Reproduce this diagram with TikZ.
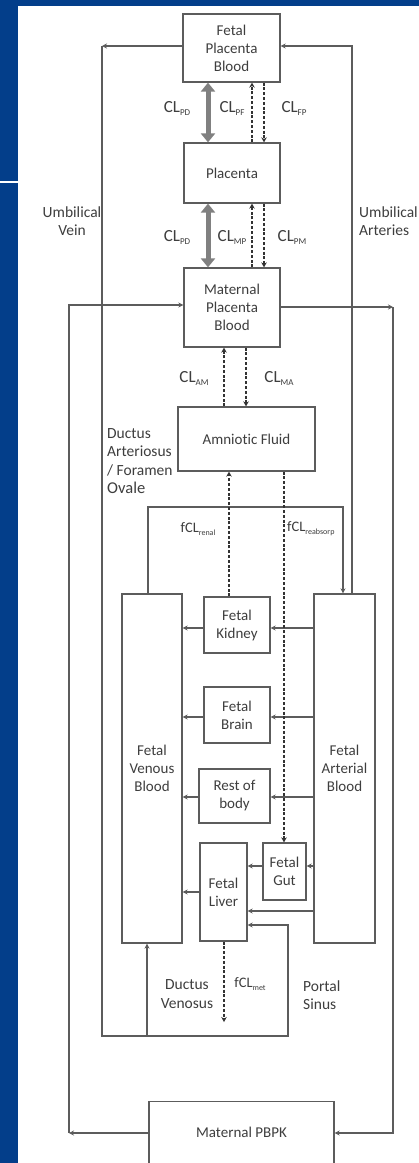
\documentclass[tikz,border=0pt]{standalone}
\usepackage{fontspec}
\setmainfont{Carlito}[Ligatures={NoCommon,NoContextual}]
\usetikzlibrary{arrows.meta}
\definecolor{slideblue}{RGB}{3,62,138}
\definecolor{ink}{RGB}{62,62,62}
\definecolor{wirecol}{RGB}{92,92,92}
\definecolor{thickcol}{RGB}{128,128,128}
\newcommand{\lsub}[2][9]{\raisebox{-3pt}{\fontsize{#1}{#1}\selectfont #2}}

\begin{document}
\begin{tikzpicture}[x=1pt,y=-1pt,
  box/.style={draw=wirecol, line width=1.3pt, text=ink, align=center, inner sep=0pt,
              font=\fontsize{15}{18}\selectfont},
  pipe/.style={draw=wirecol, line width=1.2pt},
  flow/.style={pipe, -{Stealth[length=5pt,width=5pt]}},
  dflow/.style={draw=black!80, line width=1.6pt, dash pattern=on 3pt off 1.8pt,
                -{Stealth[length=5pt,width=5.5pt]}},
  fatflow/.style={draw=thickcol, line width=5pt,
                  {Triangle[length=9pt,width=14pt]}-{Triangle[length=9pt,width=14pt]}},
  lab/.style={text=ink, inner sep=0pt, font=\fontsize{15.5}{18.5}\selectfont},
  cl/.style={text=ink, inner sep=0pt, font=\fontsize{17}{18}\selectfont},
  fcl/.style={text=ink, inner sep=0pt, font=\fontsize{14.5}{18}\selectfont},
]
% slide background and white panel
\fill[slideblue] (0,0) rectangle (419,1163);
\fill[white] (17.5,6) rectangle (419,1163);
\fill[white] (0,180.5) rectangle (17.5,183);
\useasboundingbox (0,0) rectangle (419,1163);

% compartments
\node[box, minimum width=97pt, minimum height=68pt] (fpb) at (231.5,48) {Fetal\\Placenta\\Blood};
\node[box, minimum width=96pt, minimum height=60pt] (pla) at (232,173) {Placenta};
\node[box, minimum width=96pt, minimum height=79pt] (mpb) at (232,307.5) {Maternal\\Placenta\\Blood};
\node[box, minimum width=137pt, minimum height=64pt] (amn) at (246.5,439) {Amniot\kern0pt ic Fluid};
\node[box, minimum width=60pt, minimum height=349pt] (fvb) at (152,768.5) {Fetal\\Venous\\Blood};
\node[box, minimum width=61pt, minimum height=349pt] (fab) at (344.5,768.5) {Fetal\\Arterial\\Blood};
\node[box, minimum width=66pt, minimum height=56pt] (kid) at (237,625) {Fetal\\Kidney};
\node[box, minimum width=66pt, minimum height=56pt] (brn) at (237,715) {Fetal\\Brain};
\node[box, minimum width=71pt, minimum height=54pt] (rob) at (234.5,796) {Rest of\\body};
\node[box, minimum width=43pt, minimum height=57pt] (gut) at (284.5,871.5) {Fetal\\Gut};
\node[box, minimum width=47pt, minimum height=98pt] (liv) at (223.5,892) {Fetal\\Liver};
\node[box, minimum width=185pt, minimum height=64pt, anchor=north] (mat) at (241.5,1101) {\raisebox{2pt}{Maternal PBPK}};

% routing points
\coordinate (uvTop) at (102,46);
\coordinate (uvBot) at (102,1036);
\coordinate (psBot) at (288,1036);
\coordinate (psTop) at (288,925);
\coordinate (dvBot) at (147,1036);
\coordinate (uaTop) at (352,46);
\coordinate (daL) at (148,507);
\coordinate (daR) at (343,507);
\coordinate (mlBot) at (69,1133);
\coordinate (mlTop) at (69,305);
\coordinate (mrTop) at (393,307);
\coordinate (mrBot) at (393,1133);
\coordinate (metEnd) at (224,1022);
\coordinate (c1) at (208,0);
\coordinate (c2) at (252,0);
\coordinate (c3) at (264,0);
\coordinate (c4) at (224,0);
\coordinate (c5) at (246,0);
\coordinate (c6) at (229,0);
\coordinate (c7) at (284,0);
\coordinate (r1) at (0,628);
\coordinate (r2) at (0,717);
\coordinate (r3) at (0,797);
\coordinate (r4) at (0,866);
\coordinate (r5) at (0,892);
\coordinate (r6) at (0,911);

% umbilical vein, ductus venosus and portal sinus
\draw[flow] (fpb.west |- uvTop) -- (uvTop);
\draw[flow] (uvTop) -- (uvBot) -- (psBot) -- (psTop) -- (liv.east |- psTop);
\draw[flow] (dvBot) -- (dvBot |- fvb.south);
% umbilical arteries
\draw[flow] (uaTop |- fab.north) -- (uaTop) -- (fpb.east |- uaTop);
% ductus arteriosus / foramen ovale
\draw[flow] (daL |- fvb.north) -- (daL) -- (daR) -- (daR |- fab.north);
% maternal circulation
\draw[flow] (mat.west |- mlBot) -- (mlBot);
\draw[flow] (mlBot) -- (mlTop) -- (mpb.west |- mlTop);
\draw[flow] (mpb.east |- mrTop) -- (mrTop);
\draw[flow] (mrTop) -- (mrBot) -- (mat.east |- mrBot);

% fetal organ flows
\draw[flow] (fab.west |- r1) -- (kid.east |- r1);
\draw[flow] (kid.west |- r1) -- (fvb.east |- r1);
\draw[flow] (fab.west |- r2) -- (brn.east |- r2);
\draw[flow] (brn.west |- r2) -- (fvb.east |- r2);
\draw[flow] (fab.west |- r3) -- (rob.east |- r3);
\draw[flow] (rob.west |- r3) -- (fvb.east |- r3);
\draw[flow] (fab.west |- r4) -- (gut.east |- r4);
\draw[flow] (gut.west |- r4) -- (liv.east |- r4);
\draw[flow] (liv.west |- r5) -- (fvb.east |- r5);
\draw[flow] (fab.west |- r6) -- (liv.east |- r6);

% placental diffusion
\draw[fatflow] (c1 |- fpb.south) -- (c1 |- pla.north);
\draw[fatflow] (c1 |- pla.south) -- (c1 |- mpb.north);

% clearances
\draw[dflow] (c2 |- pla.north) -- (c2 |- fpb.south);
\draw[dflow] (c3 |- fpb.south) -- (c3 |- pla.north);
\draw[dflow] (c2 |- mpb.north) -- (c2 |- pla.south);
\draw[dflow] (c3 |- pla.south) -- (c3 |- mpb.north);
\draw[dflow] (c4 |- amn.north) -- (c4 |- mpb.south);
\draw[dflow] (c5 |- mpb.south) -- (c5 |- amn.north);
\draw[dflow] (c6 |- kid.north) -- (c6 |- amn.south);
\draw[dflow] (c7 |- amn.south) -- (c7 |- gut.north);
\draw[dflow] (c4 |- liv.south) -- (metEnd);

% labels
\node[lab, align=center] (uvLab) at (72,221) {Umbilical\\Vein};
\node[lab, align=left, anchor=west] (uaLab) at (359,221) {Umbilical\\Arteries};
\node[cl] (lPD1) at (177,108) {CL\lsub{PD}};
\node[cl] (lPF) at (232,108) {CL\lsub{PF}};
\node[cl] (lFP) at (294,108) {CL\lsub{FP}};
\node[cl] (lPD2) at (177,237) {CL\lsub{PD}};
\node[cl] (lMP) at (232,237) {CL\lsub{MP}};
\node[cl] (lPM) at (292,237) {CL\lsub{PM}};
\node[cl] (lAM) at (194,378) {CL\lsub{AM}};
\node[cl] (lMA) at (279,378) {CL\lsub{MA}};
\node[lab, align=left, anchor=west] (daLab) at (107,461)
  {Ductus\\Arteriosus\\/ Foramen\\{\fontsize{16.5}{18}\selectfont Ovale}};
\node[fcl] (lRen) at (198,529) {fCL\lsub[8]{renal}};
\node[fcl, anchor=west] (lReab) at (287,529) {fCL\lsub[8]{reabsorp}};
\node[lab, align=center] (dvLab) at (187,994) {Ductus\\Venosus};
\node[fcl] (lMet) at (250,984) {fCL\lsub[8]{met}};
\node[lab, align=left, anchor=west] (psLab) at (303,995) {Portal\\Sinus};
\end{tikzpicture}
\end{document}
